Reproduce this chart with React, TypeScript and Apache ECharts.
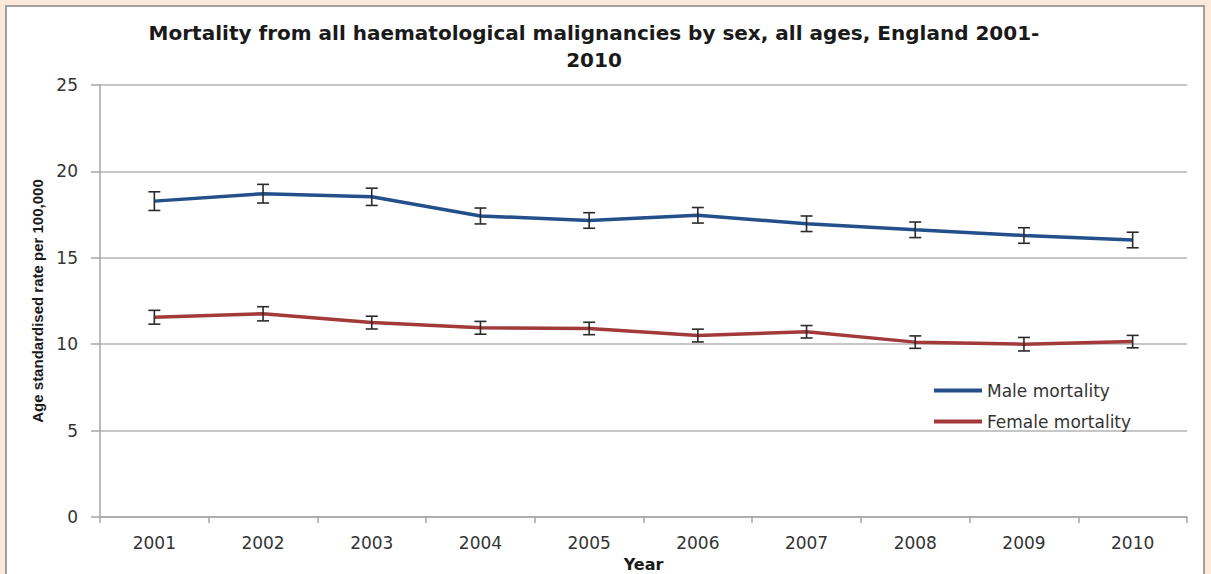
import React, { useEffect, useRef } from "react";
import * as echarts from "echarts";

const years = ["2001", "2002", "2003", "2004", "2005", "2006", "2007", "2008", "2009", "2010"];
const maleRate = [18.28, 18.71, 18.53, 17.42, 17.16, 17.46, 16.97, 16.62, 16.29, 16.03];
const maleLow = [17.74, 18.17, 18.03, 16.96, 16.71, 17.01, 16.52, 16.17, 15.84, 15.58];
const maleHigh = [18.82, 19.25, 19.03, 17.88, 17.61, 17.91, 17.42, 17.07, 16.74, 16.48];
const femaleRate = [11.56, 11.76, 11.25, 10.95, 10.91, 10.5, 10.72, 10.12, 10.0, 10.15];
const femaleLow = [11.16, 11.35, 10.88, 10.58, 10.55, 10.13, 10.36, 9.76, 9.61, 9.79];
const femaleHigh = [11.96, 12.17, 11.62, 11.32, 11.27, 10.87, 11.08, 10.48, 10.39, 10.51];
const yTicks = [0, 5, 10, 15, 20, 25];

const titleText = "Mortality from all haematological malignancies by sex, all ages, England 2001-\n2010";

export default function App() {
  const ref = useRef<HTMLDivElement>(null);
  useEffect(() => {
    if (!ref.current) return;
    const chart = echarts.init(ref.current, null, { renderer: "svg" });
    const errData = (lo: number[], hi: number[]) => lo.map((l, i) => [i, l, hi[i]]);
    const errSeries = (name: string, lo: number[], hi: number[]) => ({
      type: "custom",
      name,
      z: 5,
      silent: true,
      encode: { x: 0, y: [1, 2] },
      data: errData(lo, hi),
      renderItem: (params: any, api: any) => {
        const x = api.value(0);
        const top = api.coord([x, api.value(2)]);
        const bot = api.coord([x, api.value(1)]);
        const hw = 6;
        const style = { stroke: "#2b2b2b", lineWidth: 1.6 };
        return {
          type: "group",
          children: [
            { type: "line", shape: { x1: top[0], y1: top[1], x2: bot[0], y2: bot[1] }, style },
            { type: "line", shape: { x1: top[0] - hw, y1: top[1], x2: top[0] + hw, y2: top[1] }, style },
            { type: "line", shape: { x1: bot[0] - hw, y1: bot[1], x2: bot[0] + hw, y2: bot[1] }, style },
          ],
        };
      },
    });
    chart.setOption({
      animation: false,
      backgroundColor: "transparent",
      textStyle: { fontFamily: "DejaVu Sans" },
      graphic: [
        {
          type: "text",
          x: 594,
          y: 19,
          style: {
            text: titleText,
            fontFamily: "DejaVu Sans",
            fontWeight: "bold",
            fontSize: 20,
            lineHeight: 27,
            fill: "#1a1a1a",
            align: "center",
          },
        },
      ],
      grid: { left: 100, right: 24, top: 85, bottom: 57, containLabel: false, outerBoundsMode: "none" },
      legend: {
        orient: "vertical",
        left: 929,
        top: 377,
        itemWidth: 48,
        itemHeight: 4,
        itemGap: 14,
        icon: "rect",
        data: ["Male mortality", "Female mortality"],
        textStyle: { fontSize: 17, color: "#333", fontFamily: "DejaVu Sans" },
      },
      xAxis: {
        type: "category",
        data: years,
        boundaryGap: true,
        name: "Year",
        nameLocation: "middle",
        nameGap: 39,
        nameTextStyle: { fontWeight: "bold", fontSize: 16, color: "#1a1a1a", fontFamily: "DejaVu Sans" },
        axisLine: { lineStyle: { color: "#a6a6a6", width: 1.5 } },
        axisTick: { show: true, length: 6, lineStyle: { color: "#a6a6a6", width: 1.5 } },
        axisLabel: { fontSize: 17, color: "#333", margin: 17 },
        splitLine: { show: false },
      },
      yAxis: {
        type: "value",
        min: 0,
        max: 25,
        interval: 5,
        name: "Age standardised rate per 100,000",
        nameLocation: "middle",
        nameRotate: 90,
        nameGap: 55,
        nameTextStyle: {
          fontWeight: "bold",
          fontSize: 15,
          color: "#1a1a1a",
          fontFamily: "Liberation Sans Narrow, Liberation Sans",
        },
        axisLine: { show: true, lineStyle: { color: "#a6a6a6", width: 1.5 } },
        axisTick: { show: true, length: 9, lineStyle: { color: "#a6a6a6", width: 1.5 } },
        axisLabel: {
          fontSize: 17,
          color: "#333",
          margin: 22,
          formatter: (v: number) => (yTicks.includes(v) ? String(v) : ""),
        },
        splitLine: { show: true, lineStyle: { color: "#b3b3b3", width: 1.5 } },
      },
      series: [
        {
          name: "Male mortality",
          type: "line",
          data: maleRate,
          symbol: "none",
          color: "#234f8a",
          lineStyle: { width: 3.5, color: "#234f8a" },
          z: 3,
        },
        {
          name: "Female mortality",
          type: "line",
          data: femaleRate,
          symbol: "none",
          color: "#a33a3a",
          lineStyle: { width: 3.5, color: "#a33a3a" },
          z: 3,
        },
        errSeries("Male CI", maleLow, maleHigh),
        errSeries("Female CI", femaleLow, femaleHigh),
      ],
    });
    return () => chart.dispose();
  }, []);
  return (
    <div style={{ position: "fixed", left: 0, top: 0, width: 1211, height: 574, background: "#fde9da", overflow: "hidden" }}>
      <div
        style={{
          position: "absolute",
          left: 5,
          top: 5,
          width: 1200,
          height: 600,
          background: "#ffffff",
          border: "2px solid #a0a0a0",
          boxSizing: "border-box",
        }}
      />
      <div ref={ref} style={{ position: "absolute", left: 0, top: 0, width: 1211, height: 574 }} />
    </div>
  );
}
